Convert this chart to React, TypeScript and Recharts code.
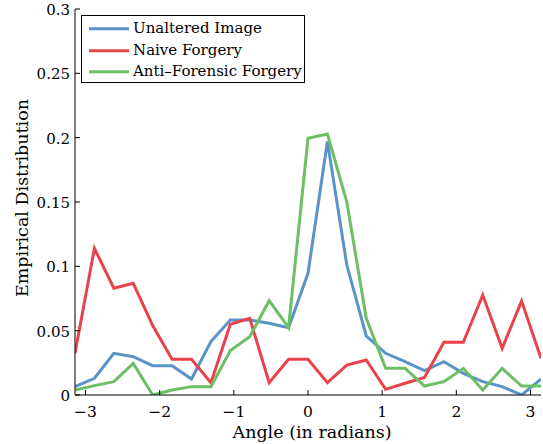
import React from 'react';
import { LineChart, Line, XAxis, YAxis, Label } from 'recharts';

const angles = [
  -3.1416, -2.8798, -2.618, -2.3562, -2.0944, -1.8326, -1.5708, -1.309, -1.0472,
  -0.7854, -0.5236, -0.2618, 0, 0.2618, 0.5236, 0.7854, 1.0472, 1.309, 1.5708,
  1.8326, 2.0944, 2.3562, 2.618, 2.8798, 3.1416,
];
const unaltered = [
  0.0065, 0.013, 0.0324, 0.0298, 0.0228, 0.0228, 0.0124, 0.0415, 0.0583, 0.0583,
  0.0557, 0.0523, 0.0946, 0.197, 0.101, 0.0459, 0.0324, 0.0259, 0.0189, 0.0259,
  0.0168, 0.0104, 0.0065, 0.0, 0.0124,
];
const naive = [
  0.0324, 0.114, 0.083, 0.0868, 0.054, 0.0277, 0.0277, 0.0096, 0.055, 0.0596,
  0.0096, 0.0277, 0.0277, 0.0096, 0.0233, 0.0272, 0.0044, 0.0091, 0.0137, 0.041,
  0.041, 0.0777, 0.0363, 0.073, 0.0285,
];
const antiForensic = [
  0.0039, 0.0073, 0.0104, 0.0246, 0.0, 0.0039, 0.0065, 0.0065, 0.0345, 0.0453,
  0.0733, 0.0523, 0.1995, 0.2028, 0.15, 0.0596, 0.0207, 0.0207, 0.007, 0.0104,
  0.0207, 0.0039, 0.0207, 0.007, 0.007,
];

const xTicks = [-3, -2, -1, 0, 1, 2, 3];
const yTicks = [0, 0.05, 0.1, 0.15, 0.2, 0.25, 0.3];
const yTickLabels = ['0', '0.05', '0.1', '0.15', '0.2', '0.25', '0.3'];
const seriesKeys = ['unaltered', 'naive', 'anti'];
const seriesNames = ['Unaltered Image', 'Naive Forgery', 'Anti\u2013Forensic Forgery'];
const seriesColors = ['#5A93C7', '#E8434A', '#6CBF63'];
const xLabel = 'Angle (in radians)';
const yLabel = 'Empirical Distribution';

const data = angles.map((a, i) => ({
  angle: a,
  unaltered: unaltered[i],
  naive: naive[i],
  anti: antiForensic[i],
}));

const TICK = 5;
const FONT = "'DejaVu Serif', serif";

const fmtX = (v: number) => (v < 0 ? '\u2212' + Math.abs(v) : String(v));
const fmtY = (v: number) => {
  const i = yTicks.findIndex((t) => Math.abs(t - v) < 1e-9);
  return i >= 0 ? yTickLabels[i] : String(v);
};

const BottomTick = (p: any) => (
  <g>
    <line x1={p.x} y1={p.y} x2={p.x} y2={p.y - TICK} stroke="#000" strokeWidth={1} />
    <text x={p.x} y={p.y + 22} textAnchor="middle" style={{ fontFamily: FONT, fontSize: 15.5 }} fill="#000">
      {fmtX(p.payload.value)}
    </text>
  </g>
);
const TopTick = (p: any) => (
  <line x1={p.x} y1={p.y} x2={p.x} y2={p.y + TICK} stroke="#000" strokeWidth={1} />
);
const LeftTick = (p: any) => (
  <g>
    <line x1={p.x} y1={p.y} x2={p.x + TICK} y2={p.y} stroke="#000" strokeWidth={1} />
    <text x={p.x - 5} y={p.y + 6} textAnchor="end" style={{ fontFamily: FONT, fontSize: 15 }} fill="#000">
      {fmtY(p.payload.value)}
    </text>
  </g>
);
const RightTick = (p: any) => (
  <line x1={p.x} y1={p.y} x2={p.x - TICK} y2={p.y} stroke="#000" strokeWidth={1} />
);

const YLabelContent = (p: any) => {
  const vb = p.viewBox || { x: 0, y: 0, width: 0, height: 0 };
  const cx = vb.x + 28;
  const cy = vb.y + vb.height / 2 - 4;
  return (
    <text
      x={cx}
      y={cy}
      textAnchor="middle"
      transform={`rotate(-90, ${cx}, ${cy})`}
      style={{ fontFamily: FONT, fontSize: 17.5 }}
      fill="#000"
    >
      {yLabel}
    </text>
  );
};

const XLabelContent = (p: any) => {
  const vb = p.viewBox || { x: 0, y: 0, width: 0, height: 0 };
  return (
    <text
      x={vb.x + vb.width / 2 + 4}
      y={vb.y + 43}
      textAnchor="middle"
      style={{ fontFamily: FONT, fontSize: 17.5 }}
      fill="#000"
    >
      {xLabel}
    </text>
  );
};

const LegendBox = () => (
  <div
    style={{
      position: 'absolute',
      left: 81,
      top: 15,
      width: 224,
      height: 68,
      boxSizing: 'border-box',
      border: '1px solid #000',
      background: '#fff',
      paddingTop: 2,
      fontFamily: FONT,
      fontSize: 15,
      color: '#000',
    }}
  >
    {seriesNames.map((name, i) => (
      <div key={name} style={{ height: 21.5, display: 'flex', alignItems: 'center', whiteSpace: 'nowrap' }}>
        <svg width={51} height={21.5} style={{ display: 'block', flex: 'none' }}>
          <line x1={7} y1={10.75} x2={47} y2={10.75} stroke={seriesColors[i]} strokeWidth={3} />
        </svg>
        <span style={{ lineHeight: '21.5px' }}>{name}</span>
      </div>
    ))}
  </div>
);

export default function App() {
  return (
    <div style={{ position: 'absolute', left: 0, top: 0, width: 543, height: 444, background: '#fff' }}>
      <LineChart width={543} height={444} data={data} margin={{ top: 9, right: 2, bottom: 0, left: 0 }}>
        <XAxis
          dataKey="angle"
          type="number"
          domain={[-Math.PI, Math.PI]}
          ticks={xTicks}
          interval={0}
          allowDataOverflow
          height={49}
          tickSize={0}
          tickMargin={0}
          tickLine={false}
          axisLine={{ stroke: '#000', strokeWidth: 1 }}
          tick={<BottomTick />}
        >
          <Label content={<XLabelContent />} />
        </XAxis>
        <XAxis
          xAxisId="top"
          orientation="top"
          dataKey="angle"
          type="number"
          domain={[-Math.PI, Math.PI]}
          ticks={xTicks}
          interval={0}
          allowDataOverflow
          height={0}
          tickSize={0}
          tickMargin={0}
          tickLine={false}
          axisLine={{ stroke: '#000', strokeWidth: 1 }}
          tick={<TopTick />}
        />
        <YAxis
          type="number"
          domain={[0, 0.3]}
          ticks={yTicks}
          interval={0}
          allowDataOverflow
          width={75}
          tickSize={0}
          tickMargin={0}
          tickLine={false}
          axisLine={{ stroke: '#000', strokeWidth: 1 }}
          tick={<LeftTick />}
        >
          <Label content={<YLabelContent />} />
        </YAxis>
        <YAxis
          yAxisId="right"
          orientation="right"
          type="number"
          domain={[0, 0.3]}
          ticks={yTicks}
          interval={0}
          allowDataOverflow
          width={0}
          tickSize={0}
          tickMargin={0}
          tickLine={false}
          axisLine={{ stroke: '#000', strokeWidth: 1 }}
          tick={<RightTick />}
        />
        {seriesKeys.map((k, i) => (
          <Line
            key={k}
            dataKey={k}
            name={seriesNames[i]}
            type="linear"
            stroke={seriesColors[i]}
            strokeWidth={3}
            dot={false}
            activeDot={false}
            isAnimationActive={false}
          />
        ))}
      </LineChart>
      <LegendBox />
    </div>
  );
}
